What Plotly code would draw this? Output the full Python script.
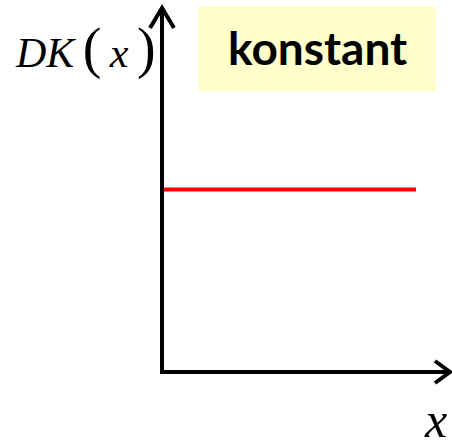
import plotly.graph_objects as go

# Data: constant function DK(x)
x_values = [0.0, 0.876]
dk_values = [0.5, 0.5]
x_label = "x"
box_label = "konstant"

W, H = 452, 443
L, T = 162, 7
B = H - 372
PW, PH = W - L, H - T - B

def px(xp):
    return (xp - L) / PW

def py(yp):
    return (H - B - yp) / PH

fig = go.Figure()
fig.add_trace(go.Scatter(x=x_values, y=dk_values, mode="lines",
                         line=dict(color="#FF0000", width=4), hoverinfo="skip",
                         showlegend=False))

shapes = []
# yellow box
shapes.append(dict(type="rect", xref="paper", yref="paper",
                   x0=px(198), x1=px(436), y0=py(91), y1=py(6),
                   fillcolor="#FFFFCC", line=dict(width=0), layer="below"))
# y axis line
shapes.append(dict(type="line", xref="paper", yref="paper",
                   x0=px(162), x1=px(162), y0=py(374), y1=py(8),
                   line=dict(color="black", width=4)))
# x axis line
shapes.append(dict(type="line", xref="paper", yref="paper",
                   x0=px(160), x1=px(450), y0=py(372), y1=py(372),
                   line=dict(color="black", width=4)))
# y arrow head
shapes.append(dict(type="path", xref="paper", yref="paper",
                   path=f"M {px(150)} {py(28)} L {px(162)} {py(8)} L {px(174)} {py(28)}",
                   line=dict(color="black", width=4)))
# x arrow head
shapes.append(dict(type="path", xref="paper", yref="paper",
                   path=f"M {px(435)} {py(361)} L {px(450)} {py(372)} L {px(435)} {py(383)}",
                   line=dict(color="black", width=4)))

thin = "\u2009"
ylabel_html = (f"<i>DK</i>{thin}<span style='font-size:56px'>(</span>{thin}<i>x</i>{thin}"
               f"<span style='font-size:56px'>)</span>")

annotations = [
    dict(xref="paper", yref="paper", x=px(13), y=py(49), xanchor="left", yanchor="middle",
         showarrow=False, text=ylabel_html,
         font=dict(family="Liberation Serif", size=42, color="black")),
    dict(xref="paper", yref="paper", x=px(317), y=py(47), xanchor="center", yanchor="middle",
         showarrow=False, text=f"<b>{box_label}</b>",
         font=dict(family="Lato", size=46, color="black")),
    dict(xref="paper", yref="paper", x=px(435), y=py(420), xanchor="center", yanchor="middle",
         showarrow=False, text=f"<i>{x_label}</i>",
         font=dict(family="Liberation Serif", size=50, color="black")),
]

fig.update_layout(
    width=W, height=H,
    margin=dict(l=L, r=0, t=T, b=B),
    paper_bgcolor="white", plot_bgcolor="white",
    xaxis=dict(range=[0, 1], visible=False, fixedrange=True),
    yaxis=dict(range=[0, 1], visible=False, fixedrange=True),
    shapes=shapes, annotations=annotations,
)

fig.write_html("out.html", config={"displayModeBar": False},
               post_script="document.body.style.margin='0';document.body.style.overflow='hidden';")
